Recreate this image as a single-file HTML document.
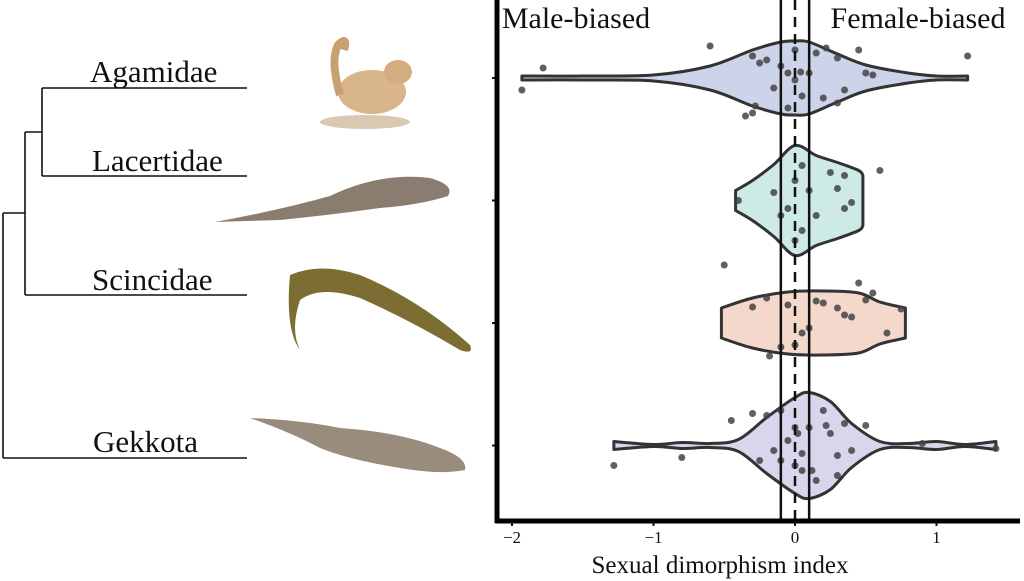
<!DOCTYPE html>
<html><head><meta charset="utf-8"><style>
body{margin:0;background:#fff;width:1024px;height:581px;overflow:hidden}
svg{display:block}
text{font-family:"Liberation Serif",serif;fill:#111}
</style></head><body>
<svg id="c" width="1024" height="581">
<g id="tree" stroke="#111" stroke-width="1.6" fill="none">
<path d="M42 88H247M42 176H247M42 88V176M25 132H42M25 295H247M25 132V295M3 213H25M3 458H247M3 213V458"/>
</g>
<text x="90" y="82" font-size="31">Agamidae</text>
<text x="92" y="171" font-size="31">Lacertidae</text>
<text x="92" y="290" font-size="31">Scincidae</text>
<text x="93" y="452" font-size="31">Gekkota</text>
<g>
<ellipse cx="372" cy="92" rx="34" ry="22" fill="#d8b58a"/><path d="M340 95 Q330 60 338 45 Q348 35 344 50" stroke="#c9a071" stroke-width="8" fill="none"/><ellipse cx="398" cy="72" rx="14" ry="12" fill="#d4ad80"/><ellipse cx="365" cy="122" rx="45" ry="7" fill="#d9c8b2"/></g>
<g>
<path d="M215 222 Q280 210 330 196 Q380 172 430 178 Q455 185 448 196 Q420 205 380 208 Q330 215 280 220Z" fill="#8a7c6e"/></g>
<g>
<path d="M290 275 Q320 262 360 275 Q420 300 470 345 Q474 355 460 350 Q410 320 360 298 Q320 285 300 300 Q290 330 300 350 Q285 330 290 275Z" fill="#7c6d32"/></g>
<g>
<path d="M250 418 Q300 420 340 428 Q400 432 440 448 Q468 458 465 470 Q440 475 400 468 Q350 460 320 448 Q290 432 250 418Z" fill="#9a8c7c"/></g>
<g id="plot"></g>
<text x="576" y="28" font-size="30" text-anchor="middle">Male-biased</text>
<text x="918" y="28" font-size="30" text-anchor="middle">Female-biased</text>
<text x="720" y="573" font-size="25" text-anchor="middle">Sexual dimorphism index</text>
</svg>
<script>
const groups=["Agamidae","Lacertidae","Scincidae","Gekkota"];
const fills=["#cdd3e8","#cdeae6","#f5d8cc","#d8d6ec"];
const densX=[
[-1.93,-1.5,-1.0,-0.6,-0.3,-0.1,0,0.1,0.3,0.5,0.8,1.0,1.22],
[-0.42,-0.3,-0.15,0,0.15,0.3,0.45,0.48],
[-0.52,-0.3,-0.05,0.2,0.45,0.6,0.78],
[-1.28,-1.0,-0.8,-0.6,-0.4,-0.2,0,0.1,0.25,0.4,0.6,0.8,1.0,1.2,1.42]];
const densH=[
[2,2,3,12,28,36,37,36,24,13,5,2,2],
[10,20,36,55,45,38,30,25],
[15,25,31,32,30,21,15],
[4,1,3,2,6,28,48,53,44,22,4,2,4,1,4]];
const ptsX=[
[-1.93,-1.78,-0.6,-0.3,-0.28,-0.2,-0.15,-0.1,-0.05,0,0.05,0.1,0.15,0.2,0.3,0.35,0.45,0.5,-0.35,-0.3,-0.25,0.0,0.04,0.22,0.55,1.22,0.3,-0.05],
[-0.4,-0.15,-0.05,0,0.05,0.1,0.15,0.25,0.3,0.35,0.4,0.35,0.6,0.05,-0.1,0.0],
[-0.5,-0.3,-0.2,-0.1,-0.05,0.0,0.05,0.15,0.2,0.3,0.4,0.45,0.5,0.65,0.75,-0.18,0.1,0.35,0.55],
[-1.28,-0.8,-0.3,-0.2,-0.1,-0.05,0,0.02,0.05,0.1,0.12,0.2,0.25,0.3,0.35,0.4,0.5,-0.45,-0.25,-0.15,0.0,0.05,0.15,0.22,1.42,0.9,0.3,-0.1]];
const ptsDy=[
[12,-10,-32,-22,28,-18,10,-12,30,-28,18,-5,-25,20,-20,12,-28,-5,38,35,-15,2,-6,-30,-3,-22,25,-5],
[0,-8,8,-20,-35,-10,15,-28,-12,8,2,-25,-30,30,15,40],
[-58,-16,-25,24,-18,22,10,-22,-20,-15,-6,-40,-23,10,-14,33,5,-8,-30],
[20,12,-32,-30,15,-5,20,-12,8,-18,25,-35,-12,30,-22,5,-20,-25,15,5,-18,25,35,-20,3,-2,10,-35]];
const xTicks=[-2,-1,0,1];
const refLines=[-0.1,0,0.1];
const x0=497,x1=1020,yb=521;
const X=v=>795+v*141.5;
const Y=i=>78+i*122.5;
const NS="http://www.w3.org/2000/svg";
const plot=document.getElementById('plot');
function mk(t,a,p){const e=document.createElementNS(NS,t);for(const k in a)e.setAttribute(k,a[k]);(p||plot).appendChild(e);return e;}
function smooth(pts){let d="M"+pts[0][0]+" "+pts[0][1];for(let i=0;i<pts.length-1;i++){const p0=pts[Math.max(i-1,0)],p1=pts[i],p2=pts[i+1],p3=pts[Math.min(i+2,pts.length-1)];const c1=[p1[0]+(p2[0]-p0[0])/6,p1[1]+(p2[1]-p0[1])/6],c2=[p2[0]-(p3[0]-p1[0])/6,p2[1]-(p3[1]-p1[1])/6];d+="C"+c1[0].toFixed(1)+" "+c1[1].toFixed(1)+" "+c2[0].toFixed(1)+" "+c2[1].toFixed(1)+" "+p2[0].toFixed(1)+" "+p2[1].toFixed(1);}return d;}
groups.forEach((g,i)=>{
 const cy=Y(i);
 const top=densX[i].map((v,j)=>[X(v),cy-densH[i][j]]);
 const bot=densX[i].map((v,j)=>[X(v),cy+densH[i][j]]).reverse();
 let d=smooth(top);d+="L"+bot[0][0]+" "+bot[0][1]+smooth(bot).replace(/^M[^C]*/,"")+"Z";
 const v=mk('path',{d:d,fill:fills[i],stroke:"#333","stroke-width":3,"stroke-linejoin":"round"});
 
 
 ptsX[i].forEach((px,j)=>{
  const c=mk('circle',{cx:X(px),cy:cy+ptsDy[i][j],r:3.5,fill:"#444","fill-opacity":0.85});
  
  
 });
 const t=mk('line',{x1:x0-5,x2:x0,y1:cy,y2:cy,stroke:"#111","stroke-width":2});
 
 
});
refLines.forEach((r,k)=>{
 const l=mk('line',{x1:X(r),x2:X(r),y1:0,y2:yb,stroke:"#111","stroke-width":2.5,"stroke-dasharray":r===0?"10 7":"none"});
 
 
});
const ya=mk('line',{x1:x0,x2:x0,y1:0,y2:yb+2,stroke:"#000","stroke-width":5});


const xa=mk('line',{x1:x0-2,x2:x1,y1:yb,y2:yb,stroke:"#000","stroke-width":5});


xTicks.forEach(t=>{
 const tl=mk('line',{x1:X(t),x2:X(t),y1:yb,y2:yb+5,stroke:"#111","stroke-width":2});
 
 
 const tx=mk('text',{x:X(t),y:yb+22,"font-size":17,"text-anchor":"middle",fill:"#333"});
 tx.textContent=t<0?"\u2212"+Math.abs(t):String(t);
 
 
});
</script>
</body></html>
